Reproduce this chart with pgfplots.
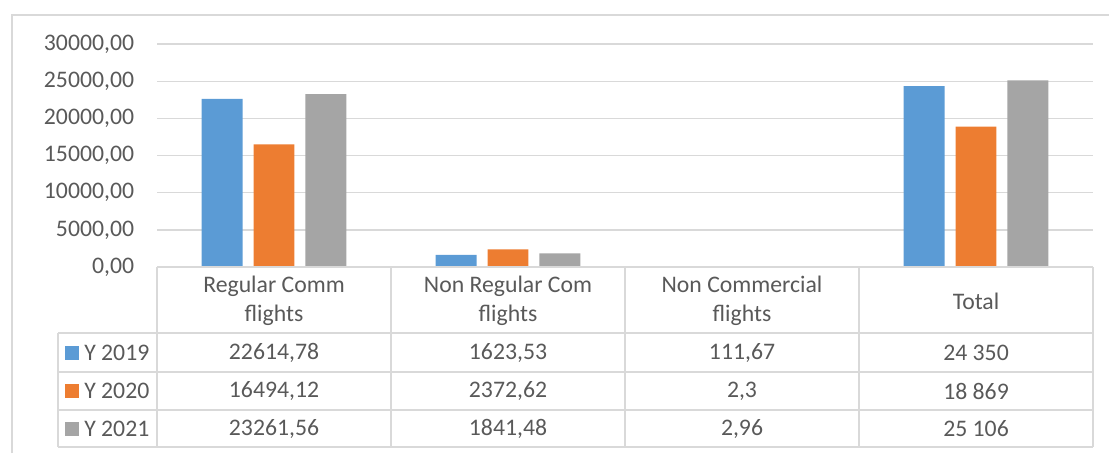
\documentclass[border=0pt]{standalone}
\usepackage{fontspec}
\setmainfont{Carlito}
\usepackage{pgfplots}
\pgfplotsset{compat=1.18}

\definecolor{c19}{HTML}{5B9BD5}
\definecolor{c20}{HTML}{ED7D31}
\definecolor{c21}{HTML}{A5A5A5}
\definecolor{txt}{HTML}{595959}
\definecolor{grd}{HTML}{D9D9D9}

\newcommand{\tf}{\fontsize{17.8}{21.8}\selectfont}

\begin{document}
\begin{tikzpicture}
\begin{scope}[x=0.75pt, y=-0.75pt]
\useasboundingbox (0,0) rectangle (1109,453);
% outer frame
\draw[grd, line width=1.2pt] (12,453) -- (12,15) -- (1109,15);
\end{scope}

\begin{axis}[
  at={(117.75pt,-200.25pt)}, anchor=south west,
  scale only axis, width=702pt, height=167.25pt,
  xmin=-0.5, xmax=3.5, ymin=0, ymax=30000,
  xtick=\empty,
  ytick={0,5000,...,30000},
  ymajorgrids, grid style={grd, line width=1pt},
  axis line style={draw=none},
  major tick length=0pt,
  tick label style={font=\tf, text=txt},
  yticklabel style={anchor=east, inner sep=0pt, xshift=-17pt,
    /pgf/number format/.cd, fixed, fixed zerofill, precision=2,
    use comma, 1000 sep={}, assume math mode=true},
  scaled y ticks=false,
  clip=false,
]
\addplot[ybar, bar width=0.175, bar shift=-0.222, fill=c19, draw=none]
  coordinates {(0,22614.78) (1,1623.53) (2,111.67) (3,24350)};
\addplot[ybar, bar width=0.175, bar shift=0, fill=c20, draw=none]
  coordinates {(0,16494.12) (1,2372.62) (2,2.3) (3,18869)};
\addplot[ybar, bar width=0.175, bar shift=0.222, fill=c21, draw=none]
  coordinates {(0,23261.56) (1,1841.48) (2,2.96) (3,25106)};
\end{axis}

\begin{scope}[x=0.75pt, y=-0.75pt]
% data table
\begin{scope}[grd, line width=1.2pt]
  \draw (157,267) -- (1093,267);
  \foreach \yy in {333,372,410,447} \draw (58,\yy) -- (1093,\yy);
  \draw (58,333) -- (58,447);
  \foreach \xx in {157,391,625,859,1093} \draw (\xx,267) -- (\xx,447);
\end{scope}

\begin{scope}[every node/.style={font=\tf, text=txt, align=center, inner sep=0pt}]
  \node at (274,301) {Regular Comm\\flights};
  \node at (508,301) {Non Regular Com\\flights};
  \node at (742,301) {Non Commercial\\flights};
  \node at (976,301) {Total};

  \fill[c19] (65,346) rectangle (79,360);
  \fill[c20] (65,384) rectangle (79,398);
  \fill[c21] (65,422) rectangle (79,436);
  \node[anchor=west] at (84,353) {Y 2019};
  \node[anchor=west] at (84,391) {Y 2020};
  \node[anchor=west] at (84,429) {Y 2021};

  \node at (274,353) {22614,78};
  \node at (508,353) {1623,53};
  \node at (742,353) {111,67};
  \node at (976,353) {24 350};
  \node at (274,391) {16494,12};
  \node at (508,391) {2372,62};
  \node at (742,391) {2,3};
  \node at (976,391) {18 869};
  \node at (274,429) {23261,56};
  \node at (508,429) {1841,48};
  \node at (742,429) {2,96};
  \node at (976,429) {25 106};
\end{scope}
\end{scope}
\end{tikzpicture}
\end{document}
